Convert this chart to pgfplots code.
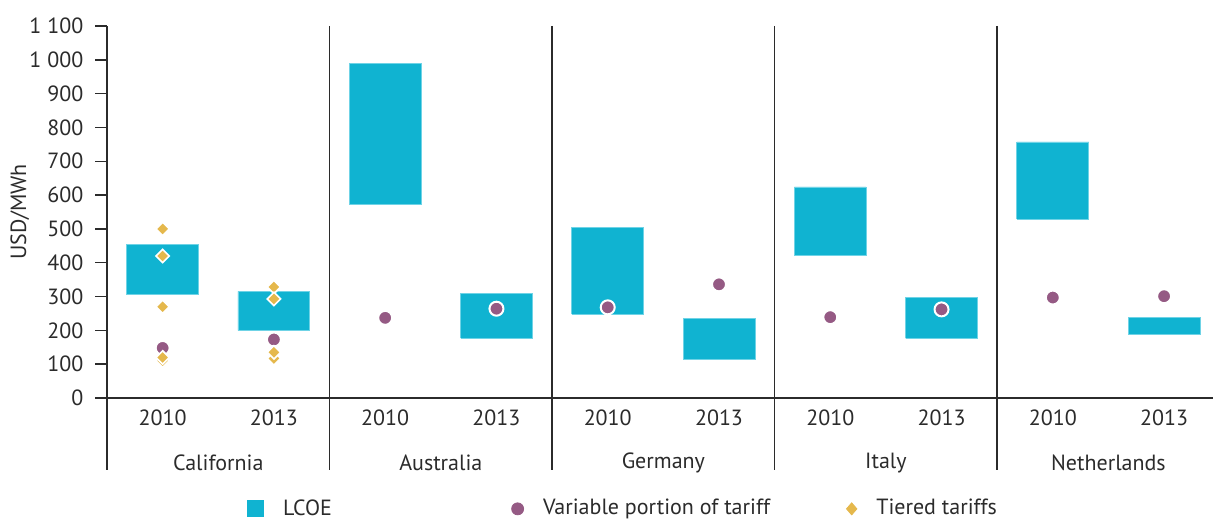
\documentclass[border=0pt]{standalone}
\usepackage{pgfplots}
\pgfplotsset{compat=1.18}
\usepackage{fontspec}
\setmainfont{PT Sans}
\definecolor{lcoe}{HTML}{10B3D1}
\definecolor{lcoeedge}{HTML}{6FD3E6}
\definecolor{varc}{HTML}{955A84}
\definecolor{tier}{HTML}{E5B84C}
\definecolor{axc}{HTML}{2B2B2B}
\begin{document}
\fontsize{11}{13}\selectfont
\begin{tikzpicture}
\begin{axis}[
  scale only axis, width=553pt, height=186pt,
  xmin=-0.5, xmax=9.44, ymin=0, ymax=1100,
  axis lines*=left,
  axis line style={axc, line width=0.75pt},
  clip=false,
  ytick={0,100,...,1100},
  yticklabel style={/pgf/number format/1000 sep={\ }, /pgf/number format/assume math mode=true, font=\fontsize{11}{13}\selectfont, text=axc, xshift=-2pt},
  y tick style={axc, line width=0.75pt},
  major tick length=6pt, tick align=outside,
  xtick={0,...,9},
  xticklabels={2010,2013,2010,2013,2010,2013,2010,2013,2010,2013},
  x tick style={draw=none},
  xticklabel style={font=\fontsize{11}{13}\selectfont, text=axc, yshift=4pt},
  ylabel={USD/MWh},
  ylabel style={at={(axis description cs:-0.0787,0.5)}, anchor=center, font=\fontsize{11}{13}\selectfont, text=axc},
  unbounded coords=jump,
  legend columns=3,
  legend style={draw=none, at={(axis description cs:0.1266,-0.298)}, anchor=west,
    inner sep=0pt, nodes={inner xsep=0pt},
    font=\fontsize{11}{13}\selectfont, text=axc,
    /tikz/every odd column/.append style={column sep=9.5pt},
    /tikz/every even column/.append style={column sep=38pt}},
]
% LCOE ranges (floating boxes): low/high per category
\addplot[fill=lcoe, draw=lcoeedge, line width=0.4pt,
  legend image code/.code={\fill[lcoe] (0pt,-4pt) rectangle (8pt,4pt);}]
coordinates {
(-0.323,305) (0.323,305) (0.323,455) (-0.323,455) (-0.323,305) (0,nan)
(0.677,200) (1.323,200) (1.323,315) (0.677,315) (0.677,200) (1,nan)
(1.677,572) (2.323,572) (2.323,990) (1.677,990) (1.677,572) (2,nan)
(2.677,177) (3.323,177) (3.323,309) (2.677,309) (2.677,177) (3,nan)
(3.677,247) (4.323,247) (4.323,504) (3.677,504) (3.677,247) (4,nan)
(4.677,115) (5.323,115) (5.323,234) (4.677,234) (4.677,115) (5,nan)
(5.677,423) (6.323,423) (6.323,624) (5.677,624) (5.677,423) (6,nan)
(6.677,176) (7.323,176) (7.323,296) (6.677,296) (6.677,176) (7,nan)
(7.677,529) (8.323,529) (8.323,757) (7.677,757) (7.677,529) (8,nan)
(8.677,188) (9.323,188) (9.323,238) (8.677,238) (8.677,188)
};
\addlegendentry{\makebox[76pt][l]{LCOE}}
% Variable portion of tariff
\addplot[only marks, mark=*, mark size=3.5pt, mark options={fill=varc, draw=white, line width=1pt},
  legend image code/.code={\fill[varc] (3pt,0pt) circle[radius=3pt];}]
coordinates {(0,148) (1,173) (2,237) (3,264) (4,268) (5,336) (6,239) (7,262) (8,297) (9,301)};
\addlegendentry{Variable portion of tariff}
% Tiered tariffs
\addplot[only marks, mark=square*, mark size=2.35pt, mark options={rotate=45, fill=tier, draw=white, line width=0.8pt},
  legend image code/.code={\fill[tier] (2.6pt,-3pt) -- (5.2pt,0pt) -- (2.6pt,3pt) -- (0pt,0pt) -- cycle;}]
coordinates {(0,500) (0,420) (0,270) (0,110) (0,120) (1,328) (1,293) (1,117) (1,135)};
\addlegendentry{Tiered tariffs}
% separators and group labels
\draw[axc, line width=0.75pt] (axis cs:-0.5,0) -- (axis cs:-0.5,-213);
\draw[axc, line width=0.75pt] (axis cs:1.5,1100) -- (axis cs:1.5,-213);
\draw[axc, line width=0.75pt] (axis cs:3.5,1100) -- (axis cs:3.5,-213);
\draw[axc, line width=0.75pt] (axis cs:5.5,1100) -- (axis cs:5.5,-213);
\draw[axc, line width=0.75pt] (axis cs:7.5,1100) -- (axis cs:7.5,-213);
\node[text=axc, font=\fontsize{11}{13}\selectfont] at (axis cs:0.5,-192) {California};
\node[text=axc, font=\fontsize{11}{13}\selectfont] at (axis cs:2.5,-192) {Australia};
\node[text=axc, font=\fontsize{11}{13}\selectfont] at (axis cs:4.5,-192) {Germany};
\node[text=axc, font=\fontsize{11}{13}\selectfont] at (axis cs:6.5,-192) {Italy};
\node[text=axc, font=\fontsize{11}{13}\selectfont] at (axis cs:8.5,-192) {Netherlands};
\coordinate (tl) at (axis cs:-1.4617,1176.8);
\coordinate (br) at (axis cs:9.4576,-357.8);
\end{axis}
\pgfresetboundingbox
\path[use as bounding box] (tl) rectangle (br);
\end{tikzpicture}
\end{document}
